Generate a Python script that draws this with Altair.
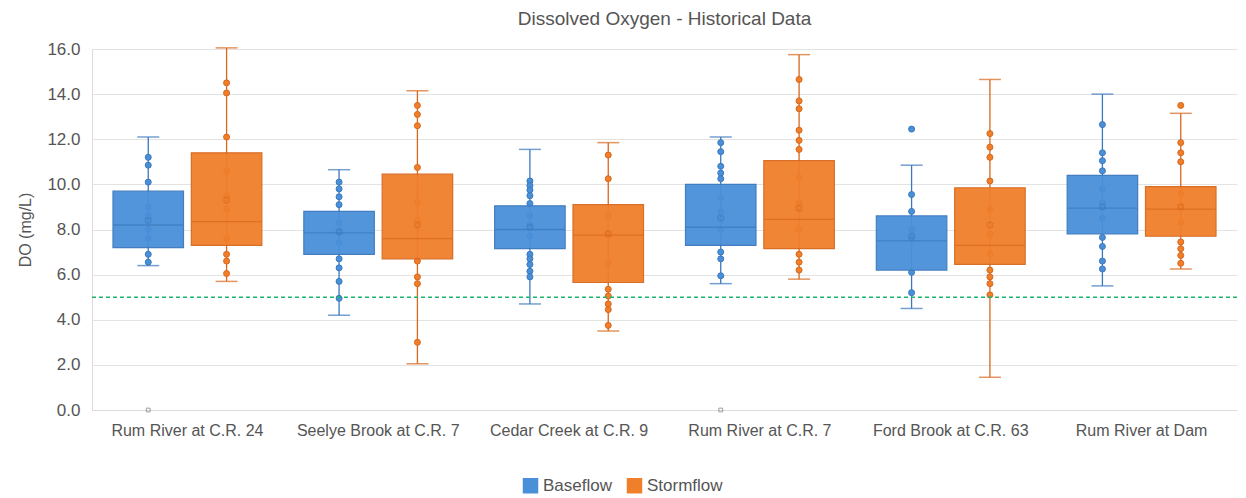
import altair as alt
import pandas as pd

sites = ["Rum River at C.R. 24", "Seelye Brook at C.R. 7", "Cedar Creek at C.R. 9",
         "Rum River at C.R. 7", "Ford Brook at C.R. 63", "Rum River at Dam"]
flows = ["Baseflow", "Stormflow"]

# box statistics per site (Baseflow)
base_lo   = [6.4, 4.2, 4.7, 5.6, 4.5, 5.5]
base_q1   = [7.2, 6.9, 7.15, 7.3, 6.2, 7.8]
base_med  = [8.2, 7.85, 8.0, 8.1, 7.5, 8.95]
base_q3   = [9.7, 8.8, 9.05, 10.0, 8.6, 10.4]
base_hi   = [12.1, 10.65, 11.55, 12.1, 10.85, 14.0]
base_mean = [8.4, 7.9, 8.1, 8.5, 7.7, 9.0]

# box statistics per site (Stormflow)
storm_lo   = [5.7, 2.05, 3.5, 5.8, 1.45, 6.25]
storm_q1   = [7.3, 6.7, 5.65, 7.15, 6.45, 7.7]
storm_med  = [8.35, 7.6, 7.75, 8.45, 7.3, 8.9]
storm_q3   = [11.4, 10.45, 9.1, 11.05, 9.85, 9.9]
storm_hi   = [16.05, 14.15, 11.85, 15.75, 14.65, 13.15]
storm_mean = [9.3, 8.2, 7.8, 8.95, 8.2, 9.0]

# individual observations per site
base_points = [
    [11.2, 10.85, 10.1, 9.0, 8.6, 8.0, 7.6, 6.9, 6.55, 0.0],
    [10.1, 9.8, 9.45, 9.1, 8.3, 7.9, 7.4, 6.7, 6.3, 5.7, 4.95],
    [10.15, 9.95, 9.75, 9.5, 9.15, 8.6, 8.2, 7.7, 6.9, 6.7, 6.45, 6.15, 5.9],
    [11.85, 11.45, 10.8, 10.5, 10.25, 9.4, 8.8, 8.0, 7.0, 6.7, 5.95, 0.0],
    [12.45, 9.55, 8.8, 8.0, 7.6, 6.1, 5.2],
    [12.65, 11.4, 11.05, 10.6, 9.8, 9.2, 8.5, 7.65, 7.25, 6.6, 6.25],
]
storm_points = [
    [14.5, 14.05, 12.1, 10.6, 9.5, 8.9, 7.6, 6.9, 6.6, 6.05],
    [13.5, 13.1, 12.6, 10.75, 9.2, 8.4, 6.6, 5.9, 5.6, 3.0],
    [11.3, 10.25, 8.6, 7.8, 6.5, 5.35, 5.05, 4.7, 4.45, 3.75],
    [14.65, 13.7, 13.35, 12.4, 11.95, 11.55, 10.3, 9.2, 8.0, 6.9, 6.55, 6.2],
    [12.25, 11.65, 11.2, 10.15, 8.9, 7.8, 6.9, 6.2, 5.9, 5.6, 5.1],
    [13.5, 11.85, 11.4, 11.0, 9.6, 9.0, 8.3, 7.45, 7.15, 6.85, 6.5],
]

threshold = 5.0
y_ticks = [0, 2, 4, 6, 8, 10, 12, 14, 16]

fill_colors = ["#4a90d9", "#f07f2b"]
stroke_colors = ["#3a78bd", "#d8671b"]

rows = []
for i, s in enumerate(sites):
    rows.append(dict(site=s, flow="Baseflow", lo=base_lo[i], q1=base_q1[i], med=base_med[i],
                     q3=base_q3[i], hi=base_hi[i], mean=base_mean[i]))
    rows.append(dict(site=s, flow="Stormflow", lo=storm_lo[i], q1=storm_q1[i], med=storm_med[i],
                     q3=storm_q3[i], hi=storm_hi[i], mean=storm_mean[i]))
box_df = pd.DataFrame(rows)

prow = []
for i, s in enumerate(sites):
    for v in base_points[i]:
        prow.append(dict(site=s, flow="Baseflow", v=v))
    for v in storm_points[i]:
        prow.append(dict(site=s, flow="Stormflow", v=v))
pts_df = pd.DataFrame(prow)
pts_main = pts_df[pts_df.v > 0.5]
pts_zero = pts_df[pts_df.v <= 0.5]

FONT = "Liberation Sans"

x_enc = alt.X("site:N", sort=sites, title=None,
              scale=alt.Scale(paddingInner=0.22, paddingOuter=0.11),
              axis=alt.Axis(labelAngle=0, labelFontSize=16, labelColor="#555", labelPadding=12,
                            ticks=False, domain=True, domainColor="#dcdcdc", labelFont=FONT))
xo_enc = alt.XOffset("flow:N", sort=flows, scale=alt.Scale(paddingInner=0.1, paddingOuter=0))
fill_scale = alt.Scale(domain=flows, range=fill_colors)
stroke_scale = alt.Scale(domain=flows, range=stroke_colors)

leg = alt.Legend(orient="none", legendX=430, legendY=428, direction="horizontal",
                 symbolType="square", symbolSize=240,
                 labelFontSize=17, labelColor="#555", labelFont=FONT,
                 symbolStrokeWidth=0, columnPadding=14, symbolOpacity=1)

y_scale = alt.Scale(domain=[0, 16], nice=False)
y_axis = alt.Axis(values=y_ticks, format=".1f", title="DO (mg/L)", labelFontSize=17,
                  labelColor="#555", titleFontSize=16, titleColor="#555", titleFontWeight="normal",
                  ticks=False, labelPadding=12, titlePadding=13, gridColor="#e3e3e3",
                  domainColor="#dcdcdc", labelFont=FONT, titleFont=FONT)

base = alt.Chart(box_df)

whisker = base.mark_rule(strokeWidth=1.3).encode(
    x=x_enc, xOffset=xo_enc,
    y=alt.Y("lo:Q", scale=y_scale, axis=y_axis), y2="hi:Q",
    color=alt.Color("flow:N", scale=stroke_scale, legend=None),
)

points = alt.Chart(pts_main).mark_circle(size=36, strokeWidth=1, opacity=1).encode(
    x=x_enc, xOffset=xo_enc,
    y=alt.Y("v:Q", scale=y_scale),
    fill=alt.Fill("flow:N", scale=fill_scale, title=None, legend=leg),
    stroke=alt.Stroke("flow:N", scale=stroke_scale, legend=None),
)

zero_pts = alt.Chart(pts_zero).mark_point(shape="square", size=14, strokeWidth=1, filled=False,
                                          color="#777").encode(
    x=x_enc, xOffset=xo_enc,
    y=alt.Y("v:Q", scale=y_scale),
)

box = base.mark_bar(opacity=0.95, strokeWidth=1.2).encode(
    x=x_enc, xOffset=xo_enc,
    y=alt.Y("q1:Q", scale=y_scale), y2="q3:Q",
    fill=alt.Fill("flow:N", scale=fill_scale, title=None, legend=leg),
    stroke=alt.Stroke("flow:N", scale=stroke_scale, legend=None),
)

median = base.mark_tick(size=70, thickness=1.3).encode(
    x=x_enc, xOffset=xo_enc,
    y=alt.Y("med:Q", scale=y_scale),
    color=alt.Color("flow:N", scale=stroke_scale, legend=None),
)

mean = base.mark_point(shape="cross", angle=45, size=40, strokeWidth=1, filled=False,
                       opacity=0.6).encode(
    x=x_enc, xOffset=xo_enc,
    y=alt.Y("mean:Q", scale=y_scale),
    color=alt.Color("flow:N", scale=stroke_scale, legend=None),
)

cap_lo = base.mark_tick(size=22, thickness=1.5).encode(
    x=x_enc, xOffset=xo_enc,
    y=alt.Y("lo:Q", scale=y_scale),
    color=alt.Color("flow:N", scale=stroke_scale, legend=None),
)
cap_hi = base.mark_tick(size=22, thickness=1.5).encode(
    x=x_enc, xOffset=xo_enc,
    y=alt.Y("hi:Q", scale=y_scale),
    color=alt.Color("flow:N", scale=stroke_scale, legend=None),
)

thr = alt.Chart(pd.DataFrame({"t": [threshold]})).mark_rule(
    color="#1fb46e", strokeDash=[4, 3], strokeWidth=1.5).encode(
    y=alt.Y("t:Q", scale=y_scale),
)

chart = alt.layer(whisker, points, zero_pts, box, median, mean, cap_lo, cap_hi, thr).resolve_scale(
    color="independent", fill="shared", stroke="shared"
).properties(
    width=1145, height=361,
    padding={"left": 9, "top": 2, "right": 0, "bottom": 5},
    title=alt.TitleParams("Dissolved Oxygen - Historical Data", fontSize=19, fontWeight="normal",
                          color="#555", font=FONT, offset=11),
).configure_view(stroke=None)

chart.save("out.html", embed_options={"renderer": "svg", "actions": False})
